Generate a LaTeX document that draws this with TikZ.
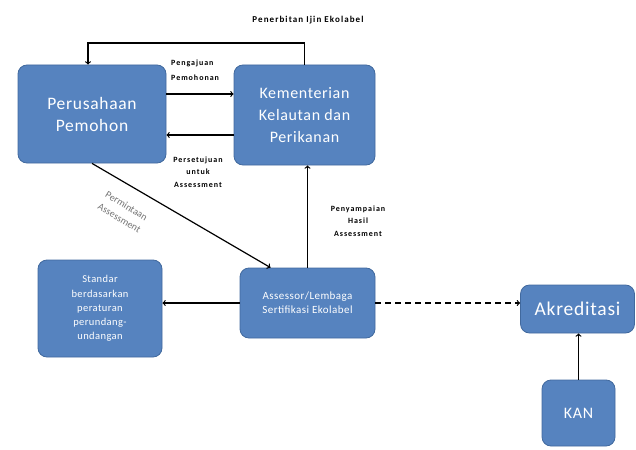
\documentclass[tikz,border=0pt]{standalone}
\usepackage{fontspec}
\setmainfont{Carlito}
\usetikzlibrary{arrows}
\usetikzlibrary{positioning}
\definecolor{boxfill}{RGB}{86,131,191}
\definecolor{boxline}{RGB}{65,105,158}
\newfontfamily\kotakfont[LetterSpace=4]{Carlito}
\newfontfamily\ketfont[LetterSpace=12]{Carlito}
\tikzset{blok/.style = {draw = boxline, fill = boxfill, rounded corners = 9, line width = 0.8,
    text = white, align = center, inner sep = 2}}
\tikzset{ket/.style = {font = \ketfont\bfseries\fontsize{8}{12.5}\selectfont, align = center, inner sep = 0}}
\tikzset{panah/.style = {->, line width = 1.2}}

\begin{document}
\begin{tikzpicture}[x = 1pt, y = -1pt]
      \useasboundingbox (0, 0) rectangle (636, 449);
      \node [blok, minimum width = 148, minimum height = 98, font = \kotakfont\fontsize{17.5}{22}\selectfont]
        (pemohon) at (92, 114) {Perusahaan\\Pemohon};
      \node [blok, minimum width = 141, minimum height = 100, font = \kotakfont\fontsize{16}{22}\selectfont]
        (kkp) at (304.5, 115) {Kementerian\\Kelautan dan\\Perikanan};
      \node [blok, minimum width = 135, minimum height = 70, font = \kotakfont\fontsize{11}{14}\selectfont]
        (assessor) at (307.5, 303) {Assessor/Lembaga\\Sertifikasi Ekolabel};
      \node [blok, minimum width = 124, minimum height = 97, font = \kotakfont\fontsize{10.5}{14.2}\selectfont]
        (standar) at (100, 308.5) {Standar\\berdasarkan\\peraturan\\perundang-\\undangan};
      \node [blok, minimum width = 114, minimum height = 48, font = \kotakfont\fontsize{19.5}{20}\selectfont]
        (akreditasi) at (577.5, 309) {Akreditasi};
      \node [blok, minimum width = 73, minimum height = 66, font = \kotakfont\fontsize{16}{20}\selectfont]
        (kan) at (578.5, 413) {KAN};
      % connectors
      \draw [panah] (kkp.north) -- (kkp.north |- 0, 43) -| ([xshift = -4]pemohon.north);
      \draw [panah] ([yshift = 20]pemohon.east) -- ([yshift = 20]pemohon.east -| kkp.west);
      \draw [panah] ([yshift = -20]kkp.west) -- ([yshift = -20]kkp.west -| pemohon.east);
      \draw [panah] (pemohon.south) -- ([xshift = -37]assessor.north);
      \draw [panah] (assessor.north) -- (assessor.north |- kkp.south);
      \draw [panah] (assessor.west) -- (assessor.west -| standar.east);
      \draw [panah, dash pattern = on 6pt off 4pt] (assessor.east) -- (assessor.east -| akreditasi.west);
      \draw [panah] (kan.north) -- (kan.north |- akreditasi.south);
      % labels
      \node [ket, font = \ketfont\bfseries\fontsize{9}{10}\selectfont] (terbit) at (308, 20) {Penerbitan Ijin Ekolabel};
      \node [ket, align = left, anchor = west, font = \ketfont\bfseries\fontsize{8}{15}\selectfont]
        (ajuan) at (171, 70.5) {Pengajuan\\Pemohonan};
      \node [ket] (setuju) at (198, 172) {Persetujuan\\untuk\\Assessment};
      \node [ket] (hasil) at (358, 221) {Penyampaian\\Hasil\\Assessment};
      \node [ket, text = black!55, rotate = -31, font = \fontsize{10}{14}\selectfont]
        (minta) at (123, 212) {Permintaan\\Assessment};
    \end{tikzpicture}
\end{document}
